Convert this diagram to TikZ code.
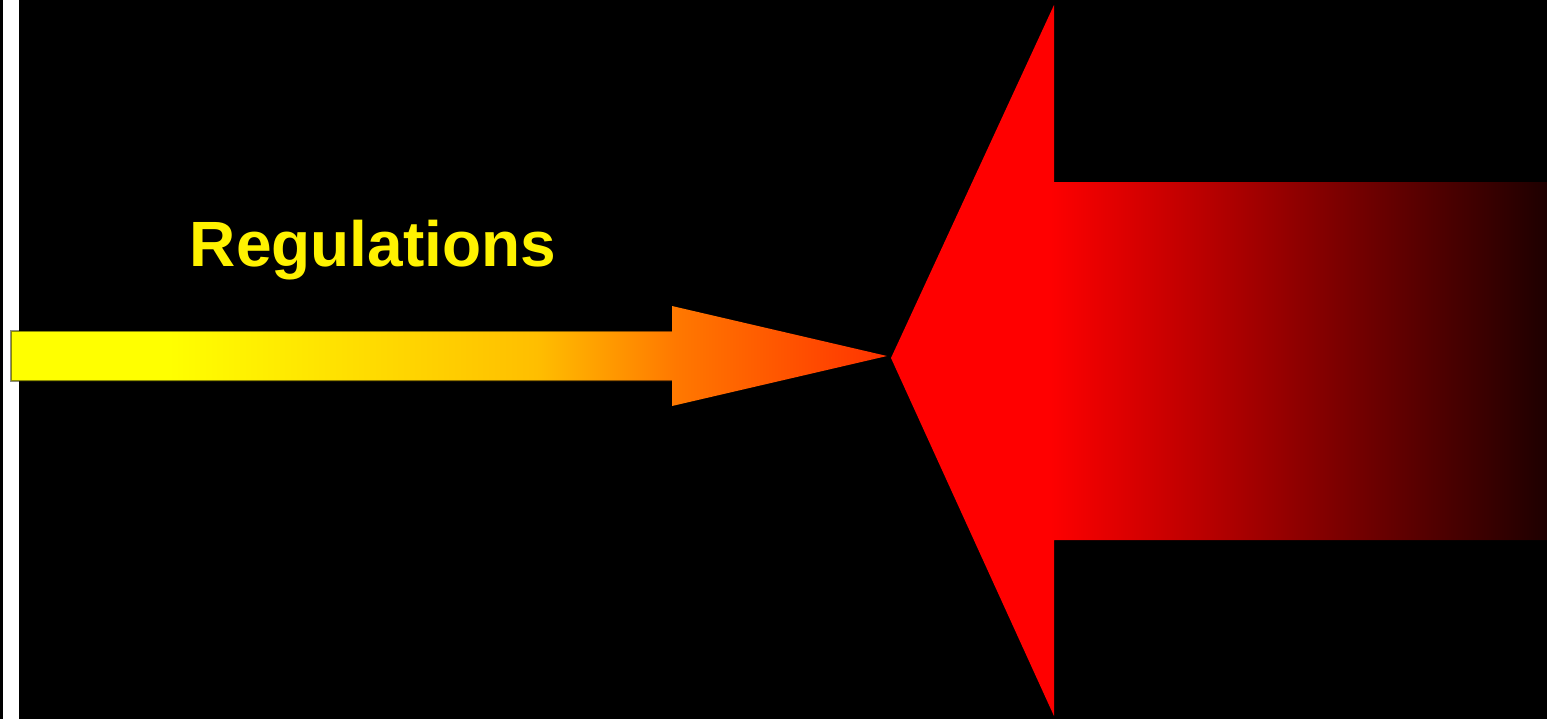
\documentclass[tikz,border=0pt]{standalone}
\usepackage{fontspec}
\setmainfont{Liberation Sans}
\usetikzlibrary{positioning}

\pgfdeclarehorizontalshading{regshade}{100bp}{color(0bp)=(yellow); color(25bp)=(yellow); color(34bp)=(yellow); color(55bp)=(rgb,255:red,255;green,190;blue,0); color(63bp)=(rgb,255:red,255;green,120;blue,0); color(75bp)=(rgb,255:red,255;green,50;blue,0); color(100bp)=(rgb,255:red,255;green,50;blue,0)}
\pgfdeclarehorizontalshading{pushshade}{100bp}{color(0bp)=(red); color(25bp)=(red); color(37bp)=(red); color(75bp)=(rgb,255:red,30;green,0;blue,0); color(100bp)=(rgb,255:red,30;green,0;blue,0)}

\begin{document}
\begin{tikzpicture}[
    x=0.5pt, y=-0.5pt,
    label/.style={text=yellow, font=\bfseries\fontsize{32}{38}\selectfont, inner sep=0pt},
    smallarrow/.style={shading=regshade},
    rim/.style={draw=black, draw opacity=0.45, line width=0.7pt},
    bigarrow/.style={shading=pushshade}
]

% background
\fill[black] (0,0) rectangle (1547,719);
\fill[white] (3,0) rectangle (19,719);
\useasboundingbox (0,0) rectangle (1547,719);

% left arrow
\coordinate (reg_tip) at (887,356);
\shade[smallarrow] (11,331) -- (672,331) -- (672,306) -- (reg_tip)
    -- (672,406) -- (672,381) -- (11,381) -- cycle;
\draw[rim] (672,331) -- (11,331) -- (11,381) -- (672,381);

% right arrow
\coordinate (push_tip) at (891,358);
\shade[bigarrow] (push_tip) -- (1054,5) -- (1054,182) -- (1547,182)
    -- (1547,540) -- (1054,540) -- (1054,716) -- cycle;

\node[label, anchor=base] (regulations) at (373,266) {Regulations};

\end{tikzpicture}
\end{document}
